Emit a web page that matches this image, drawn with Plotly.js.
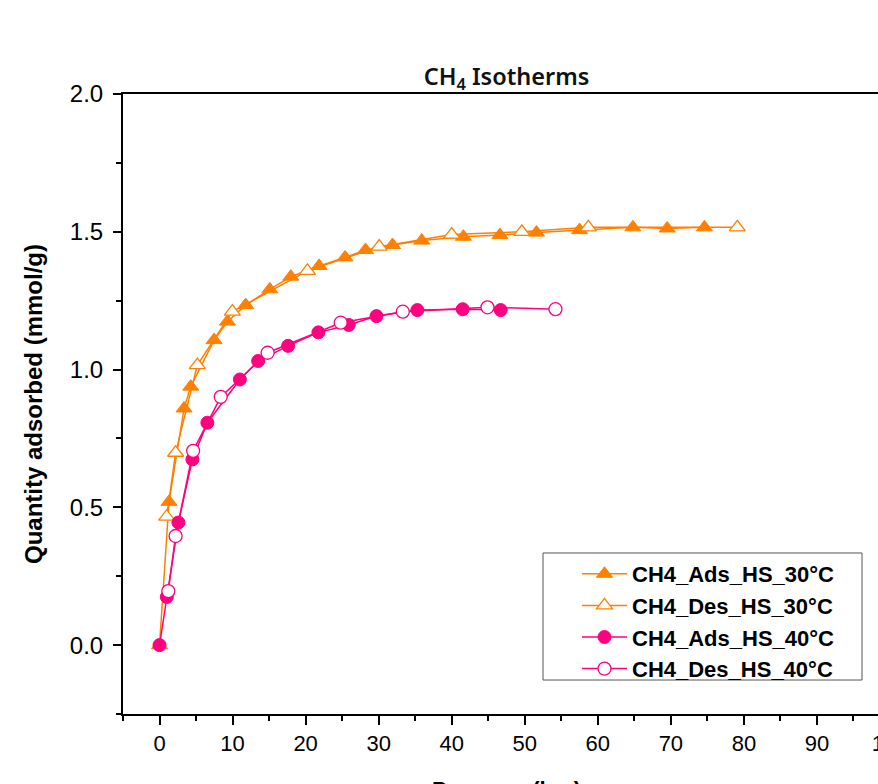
<!DOCTYPE html>
<html>
<head>
<meta charset="utf-8">
<script src="https://cdn.plot.ly/plotly-3.0.1.min.js"></script>
<style>
html, body { margin: 0; padding: 0; overflow: hidden; background: #fff; }
#chart { width: 950px; height: 830px; }
</style>
</head>
<body>
<div id="chart"></div>
<script>
// Data
const seriesNames = ["CH4_Ads_HS_30°C", "CH4_Des_HS_30°C", "CH4_Ads_HS_40°C", "CH4_Des_HS_40°C"];

const ads30P = [0, 1.3, 3.36, 4.27, 7.47, 9.3, 11.8, 15.1, 17.97, 21.85, 25.4, 28.2, 31.9, 35.9, 41.6, 46.6, 51.6, 57.5, 64.8, 69.5, 74.6];
const ads30Q = [0, 0.52, 0.859, 0.938, 1.107, 1.174, 1.234, 1.291, 1.337, 1.376, 1.407, 1.434, 1.452, 1.468, 1.482, 1.488, 1.497, 1.506, 1.516, 1.512, 1.516];

const des30P = [79.1, 58.7, 49.6, 40.0, 30.07, 20.25, 9.97, 5.18, 2.2, 0.98];
const des30Q = [1.516, 1.516, 1.50, 1.49, 1.446, 1.358, 1.21, 1.016, 0.698, 0.466];

const ads40P = [0, 1.0, 2.58, 4.5, 6.55, 11.0, 13.5, 17.6, 21.75, 25.9, 29.7, 35.3, 41.5, 46.7];
const ads40Q = [0, 0.175, 0.445, 0.674, 0.807, 0.964, 1.031, 1.086, 1.135, 1.162, 1.194, 1.216, 1.219, 1.216];

const des40P = [54.2, 44.9, 33.3, 24.8, 14.8, 8.38, 4.6, 2.2, 1.2];
const des40Q = [1.219, 1.226, 1.21, 1.17, 1.061, 0.901, 0.705, 0.396, 0.196];

const xTickVals = [0, 10, 20, 30, 40, 50, 60, 70, 80, 90, 100];
const yTickVals = [0.0, 0.5, 1.0, 1.5, 2.0];
const yTickText = ["0.0", "0.5", "1.0", "1.5", "2.0"];

const ORANGE = "#FF8000";
const PINK = "#FF0080";
const FONT = "Liberation Sans, Arial, sans-serif";

const traces = [
  {
    x: ads30P, y: ads30Q, name: seriesNames[0], legendgroup: "a", mode: "lines+markers", type: "scatter",
    line: {color: ORANGE, width: 1.5},
    marker: {symbol: "triangle-up", size: 14, color: ORANGE, line: {color: ORANGE, width: 1}}
  },
  {
    x: des30P, y: des30Q, name: seriesNames[1], legendgroup: "b", mode: "lines+markers", type: "scatter",
    line: {color: ORANGE, width: 1.5},
    marker: {symbol: "triangle-up", size: 14, color: "#ffffff", line: {color: ORANGE, width: 1.3}}
  },
  {
    x: ads40P, y: ads40Q, name: seriesNames[2], legendgroup: "c", mode: "lines+markers", type: "scatter",
    line: {color: PINK, width: 1.5},
    marker: {symbol: "circle", size: 13, color: PINK, line: {color: PINK, width: 1}}
  },
  {
    x: des40P, y: des40Q, name: seriesNames[3], legendgroup: "d", mode: "lines+markers", type: "scatter",
    line: {color: PINK, width: 1.5},
    marker: {symbol: "circle", size: 13, color: "#ffffff", line: {color: PINK, width: 1.3}}
  }
];

const layout = {
  width: 950, height: 830,
  margin: {l: 123, r: 60, t: 94, b: 116},
  paper_bgcolor: "#ffffff", plot_bgcolor: "#ffffff",
  showlegend: true,
  title: {
    text: "CH<sub>4</sub> Isotherms",
    font: {family: "Noto Sans, Open Sans, sans-serif", size: 23.5, color: "#111111", weight: 600},
    x: 0.5, xanchor: "center", xref: "paper",
    y: 1, yref: "paper", yanchor: "bottom", pad: {b: 9}
  },
  xaxis: {
    range: [-5, 100], showgrid: false, zeroline: false,
    showline: true, linecolor: "#000000", linewidth: 2, mirror: true,
    ticks: "outside", ticklen: 9, tickwidth: 2, tickcolor: "#000000",
    tickmode: "array", tickvals: xTickVals,
    tickfont: {family: FONT, size: 22, color: "#000000"},
    minor: {dtick: 5, tick0: 0, ticks: "outside", ticklen: 5, tickwidth: 2, tickcolor: "#000000"},
    title: {text: "Pressure (bar)", font: {family: FONT, size: 22, color: "#000000", weight: "bold"}, standoff: 26}
  },
  yaxis: {
    range: [-0.25, 2.0], showgrid: false, zeroline: false,
    showline: true, linecolor: "#000000", linewidth: 2, mirror: true,
    ticks: "outside", ticklen: 8, tickwidth: 2, tickcolor: "#000000",
    tickmode: "array", tickvals: yTickVals, ticktext: yTickText,
    tickfont: {family: FONT, size: 24, color: "#000000"}, ticklabelstandoff: 5,
    minor: {dtick: 0.25, tick0: 0, ticks: "outside", ticklen: 5, tickwidth: 2, tickcolor: "#000000"},
    title: {text: "Quantity adsorbed (mmol/g)", font: {family: FONT, size: 24, color: "#000000", weight: "bold"}, standoff: 20}
  },
  legend: {
    x: 0.5919, xanchor: "left", y: 0.2597, yanchor: "top",
    bgcolor: "rgba(0,0,0,0)", borderwidth: 0,
    font: {family: FONT, size: 22, color: "#000000", weight: "bold"},
    tracegroupgap: 0, itemwidth: 45
  },
  shapes: [
    {type: "rect", xref: "paper", yref: "paper", x0: 0.5476, x1: 0.9635, y0: 0.0548, y1: 0.2597,
     line: {color: "#555555", width: 1}, fillcolor: "#ffffff", layer: "above"}
  ]
};

Plotly.newPlot("chart", traces, layout, {displayModeBar: false, staticPlot: true});
</script>
</body>
</html>
